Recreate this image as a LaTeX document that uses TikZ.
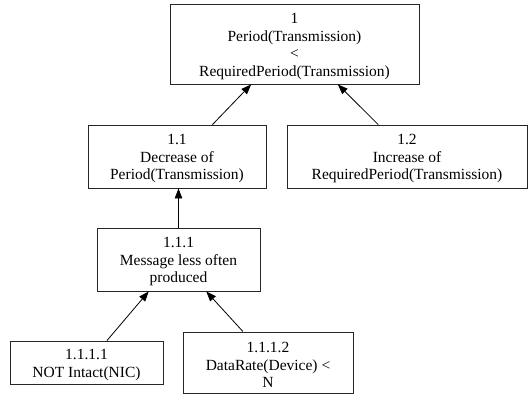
\documentclass[tikz,border=0pt]{standalone}
\usepackage{fontspec}
\setmainfont{Liberation Serif}
\usetikzlibrary{arrows.meta}
\begin{document}
\begin{tikzpicture}[x=1pt,y=-1pt,
  goal/.style={draw=black!85,line width=0.9pt,inner sep=0pt},
  goaltext/.style={inner sep=0pt,align=center,
    font=\fontsize{15.5}{17.5}\selectfont},
  link/.style={draw=black,line width=0.8pt,-{Triangle[length=10pt,width=7.5pt]}}]
\useasboundingbox (0,0) rectangle (528,394);
\node[goal,minimum width=249pt,minimum height=80pt] (n1) at (294.5,44) {};
\node[goal,minimum width=178pt,minimum height=63pt] (n11) at (177,156.5) {};
\node[goal,minimum width=240pt,minimum height=63pt] (n12) at (407,156.5) {};
\node[goal,minimum width=163pt,minimum height=63pt] (n111) at (178.5,259.5) {};
\node[goal,minimum width=153pt,minimum height=43pt] (n1111) at (86.5,362.5) {};
\node[goal,minimum width=170pt,minimum height=61pt] (n1112) at (268,362.5) {};
\node[goaltext] (t1) at ([yshift=-2.5pt]n1.center)
  {1\\Period(Transmission)\\<\\RequiredPeriod(Transmission)};
\node[goaltext] (t11) at ([yshift=-2.5pt]n11.center)
  {1.1\\Decrease of\\Period(Transmission)};
\node[goaltext] (t12) at ([yshift=-2.5pt]n12.center)
  {1.2\\Increase of\\RequiredPeriod(Transmission)};
\node[goaltext] (t111) at ([yshift=-2.5pt]n111.center)
  {1.1.1\\Message less often\\produced};
\node[goaltext] (t1111) at ([yshift=-2.5pt]n1111.center)
  {1.1.1.1\\NOT Intact(NIC)};
\node[goaltext] (t1112) at ([yshift=-2.5pt]n1112.center)
  {1.1.1.2\\DataRate(Device) <\\N};
\draw[link] (n11.42) -- (n1.223);
\draw[link] (n12.132.6) -- (n1.317.4);
\draw[link] (n111.north) -- (n111.north |- n11.south);
\draw[link] (n1111.47.8) -- (n111.227.9);
\draw[link] (n1112.129.3) -- (n111.311.1);
\end{tikzpicture}
\end{document}
